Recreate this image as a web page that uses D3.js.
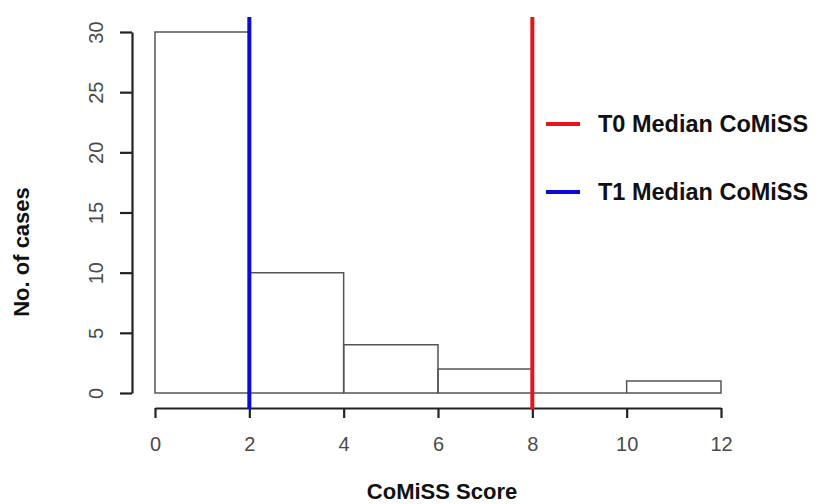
<!DOCTYPE html>
<html><head><meta charset="utf-8">
<script src="https://cdn.jsdelivr.net/npm/d3@7"></script>
<style>body{margin:0;background:#fff;} svg{display:block;font-family:"Liberation Sans",Arial,sans-serif;}</style>
</head><body>
<svg id="c" width="816" height="504"></svg>
<script>
const binStarts = [0, 2, 4, 6, 8, 10];
const binWidth = 2;
const counts = [30, 10, 4, 2, 0, 1];
const xTicks = [0, 2, 4, 6, 8, 10, 12];
const yTicks = [0, 5, 10, 15, 20, 25, 30];
const medianLabels = ["T0 Median CoMiSS", "T1 Median CoMiSS"];
const medianValues = [8, 2];
const medianColors = ["#e8141c", "#0a0ad6"];

const svg = d3.select("#c");
const x = d3.scaleLinear().domain([0, 12]).range([155, 721]);
const y = d3.scaleLinear().domain([0, 30]).range([393, 32]);

// bars (paths so that zero-height bins still show their baseline)
svg.selectAll("path.bar").data(binStarts).enter().append("path")
  .attr("d", (d, i) => {
    const x0 = x(d), x1 = x(d + binWidth), y0 = y(0), y1 = y(counts[i]);
    return `M${x0},${y0}L${x0},${y1}L${x1},${y1}L${x1},${y0}Z`;
  })
  .attr("fill", "none").attr("stroke", "#555").attr("stroke-width", 1.5);

// x axis
const xAxis = svg.append("g").attr("transform", "translate(0,408)")
  .call(d3.axisBottom(x).tickValues(xTicks).tickSize(10).tickPadding(19).tickSizeOuter(0));
xAxis.select(".domain").attr("stroke", "#222").attr("stroke-width", 2.2);
xAxis.selectAll(".tick line").attr("stroke", "#222").attr("stroke-width", 2.2);
xAxis.selectAll(".tick text").attr("font-size", 20).attr("fill", "#4a4a4a")
  .attr("font-family", "Liberation Sans, Arial, sans-serif");

// y axis
const yAxis = svg.append("g").attr("transform", "translate(132,0)")
  .call(d3.axisLeft(y).tickValues(yTicks).tickSize(12).tickPadding(0).tickSizeOuter(0));
yAxis.select(".domain").attr("stroke", "#222").attr("stroke-width", 2.2);
yAxis.selectAll(".tick line").attr("stroke", "#222").attr("stroke-width", 2.2);
yAxis.selectAll(".tick text").attr("font-size", 20).attr("fill", "#4a4a4a")
  .attr("font-family", "Liberation Sans, Arial, sans-serif")
  .attr("transform", "translate(-36,0) rotate(-90)")
  .attr("x", 0).attr("dy", "0.35em").attr("text-anchor", "middle");

// median lines
svg.selectAll("line.med").data(medianValues).enter().append("line")
  .attr("x1", (d) => x(d)).attr("x2", (d) => x(d))
  .attr("y1", 17).attr("y2", 409)
  .attr("stroke", (d, i) => medianColors[i]).attr("stroke-width", 4);

// legend
const legY = [124, 192];
medianLabels.forEach((t, i) => {
  svg.append("line").attr("x1", 546).attr("x2", 580).attr("y1", legY[i]).attr("y2", legY[i])
    .attr("stroke", medianColors[i]).attr("stroke-width", 4);
  svg.append("text").attr("x", 598).attr("y", legY[i] + 8)
    .attr("font-size", 23.5).attr("font-weight", "bold").attr("fill", "#111").text(t);
});

// titles
svg.append("text").attr("x", 442).attr("y", 499).attr("text-anchor", "middle")
  .attr("font-size", 22).attr("font-weight", "bold").attr("fill", "#111").text("CoMiSS Score");
svg.append("text").attr("transform", "translate(29,252) rotate(-90)").attr("text-anchor", "middle")
  .attr("font-size", 22).attr("font-weight", "bold").attr("fill", "#111").text("No. of cases");
</script>
</body></html>
